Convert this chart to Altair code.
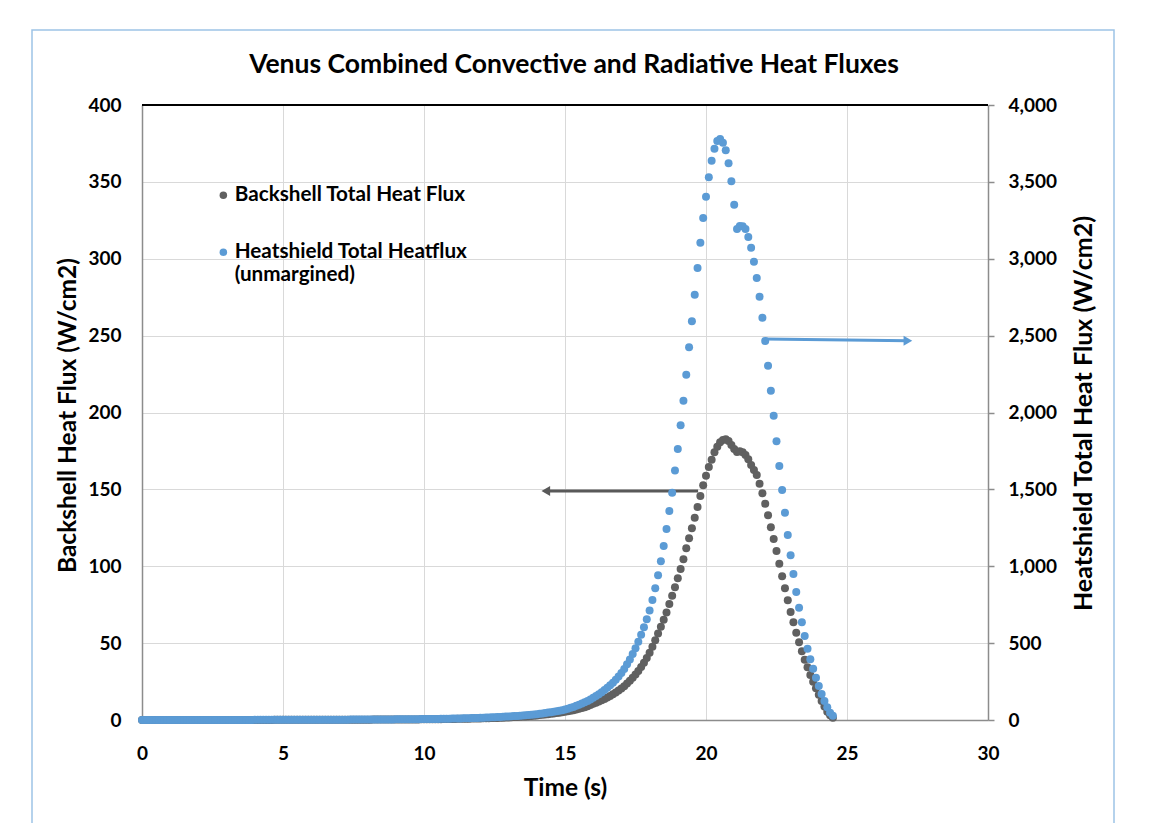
import altair as alt
import pandas as pd

# ---------------- data ----------------
TIME = [
    0.0, 0.1, 0.2, 0.3, 0.4, 0.5, 0.6, 0.7, 0.8, 0.9,
    1.0, 1.1, 1.2, 1.3, 1.4, 1.5, 1.6, 1.7, 1.8, 1.9,
    2.0, 2.1, 2.2, 2.3, 2.4, 2.5, 2.6, 2.7, 2.8, 2.9,
    3.0, 3.1, 3.2, 3.3, 3.4, 3.5, 3.6, 3.7, 3.8, 3.9,
    4.0, 4.1, 4.2, 4.3, 4.4, 4.5, 4.6, 4.7, 4.8, 4.9,
    5.0, 5.1, 5.2, 5.3, 5.4, 5.5, 5.6, 5.7, 5.8, 5.9,
    6.0, 6.1, 6.2, 6.3, 6.4, 6.5, 6.6, 6.7, 6.8, 6.9,
    7.0, 7.1, 7.2, 7.3, 7.4, 7.5, 7.6, 7.7, 7.8, 7.9,
    8.0, 8.1, 8.2, 8.3, 8.4, 8.5, 8.6, 8.7, 8.8, 8.9,
    9.0, 9.1, 9.2, 9.3, 9.4, 9.5, 9.6, 9.7, 9.8, 9.9,
    10.0, 10.1, 10.2, 10.3, 10.4, 10.5, 10.6, 10.7, 10.8, 10.9,
    11.0, 11.1, 11.2, 11.3, 11.4, 11.5, 11.6, 11.7, 11.8, 11.9,
    12.0, 12.1, 12.2, 12.3, 12.4, 12.5, 12.6, 12.7, 12.8, 12.9,
    13.0, 13.1, 13.2, 13.3, 13.4, 13.5, 13.6, 13.7, 13.8, 13.9,
    14.0, 14.1, 14.2, 14.3, 14.4, 14.5, 14.6, 14.7, 14.8, 14.9,
    15.0, 15.1, 15.2, 15.3, 15.4, 15.5, 15.6, 15.7, 15.8, 15.9,
    16.0, 16.1, 16.2, 16.3, 16.4, 16.5, 16.6, 16.7, 16.8, 16.9,
    17.0, 17.1, 17.2, 17.3, 17.4, 17.5, 17.6, 17.7, 17.8, 17.9,
    18.0, 18.1, 18.2, 18.3, 18.4, 18.5, 18.6, 18.7, 18.8, 18.9,
    19.0, 19.1, 19.2, 19.3, 19.4, 19.5, 19.6, 19.7, 19.8, 19.9,
    20.0, 20.1, 20.2, 20.3, 20.4, 20.5, 20.6, 20.7, 20.8, 20.9,
    21.0, 21.1, 21.2, 21.3, 21.4, 21.5, 21.6, 21.7, 21.8, 21.9,
    22.0, 22.1, 22.2, 22.3, 22.4, 22.5, 22.6, 22.7, 22.8, 22.9,
    23.0, 23.1, 23.2, 23.3, 23.4, 23.5, 23.6, 23.7, 23.8, 23.9,
    24.0, 24.1, 24.2, 24.3, 24.4, 24.5,
]

# Backshell total heat flux, W/cm2 (left axis)
BACKSHELL = [
    0.01, 0.01, 0.01, 0.01, 0.01, 0.01, 0.02, 0.02, 0.02, 0.02,
    0.02, 0.02, 0.02, 0.02, 0.03, 0.03, 0.03, 0.03, 0.03, 0.03,
    0.03, 0.03, 0.04, 0.04, 0.04, 0.04, 0.04, 0.04, 0.05, 0.05,
    0.05, 0.05, 0.05, 0.05, 0.06, 0.06, 0.06, 0.06, 0.06, 0.07,
    0.07, 0.07, 0.07, 0.08, 0.08, 0.08, 0.08, 0.09, 0.09, 0.09,
    0.10, 0.10, 0.10, 0.11, 0.11, 0.11, 0.12, 0.12, 0.12, 0.13,
    0.13, 0.14, 0.14, 0.14, 0.15, 0.15, 0.16, 0.16, 0.17, 0.17,
    0.18, 0.18, 0.19, 0.19, 0.20, 0.20, 0.21, 0.22, 0.22, 0.23,
    0.24, 0.24, 0.25, 0.26, 0.26, 0.27, 0.28, 0.29, 0.30, 0.30,
    0.31, 0.32, 0.33, 0.34, 0.35, 0.36, 0.38, 0.39, 0.40, 0.42,
    0.43, 0.45, 0.47, 0.49, 0.51, 0.53, 0.56, 0.58, 0.61, 0.64,
    0.68, 0.71, 0.74, 0.77, 0.81, 0.84, 0.88, 0.92, 0.96, 1.00,
    1.05, 1.10, 1.15, 1.20, 1.26, 1.32, 1.38, 1.45, 1.52, 1.60,
    1.70, 1.80, 1.90, 2.00, 2.10, 2.20, 2.35, 2.50, 2.65, 2.80,
    3.00, 3.20, 3.40, 3.60, 3.80, 4.00, 4.25, 4.50, 4.75, 5.00,
    5.30, 5.65, 6.00, 6.40, 6.85, 7.30, 7.80, 8.35, 8.95, 9.70,
    10.5, 11.2, 12.0, 12.8, 13.7, 14.6, 15.6, 16.7, 17.9, 19.2,
    20.5, 22.0, 23.7, 25.5, 27.5, 29.6, 31.9, 34.4, 37.2, 40.3,
    43.8, 47.6, 51.8, 56.2, 60.6, 65.2, 70.0, 75.4, 80.8, 86.3,
    92.2, 98.2, 104.5, 111.7, 118.2, 124.7, 131.6, 138.5, 145.7, 152.7,
    158.9, 164.6, 169.3, 174.1, 177.8, 180.6, 182.1, 182.6, 181.5, 178.9,
    176.3, 174.3, 174.8, 174.1, 172.4, 169.6, 165.9, 162.6, 159.3, 153.7,
    147.4, 140.7, 133.1, 125.3, 117.7, 109.9, 101.7, 93.5, 85.7, 77.9,
    70.2, 63.5, 56.8, 50.5, 44.7, 39.2, 34.3, 29.3, 24.9, 20.6,
    16.5, 12.4, 8.7, 5.4, 3.1, 1.5,
]

# Heatshield total heat flux (unmargined), W/cm2 (right axis)
HEATSHIELD = [
    0.2, 0.2, 0.2, 0.2, 0.2, 0.2, 0.3, 0.3, 0.3, 0.3,
    0.3, 0.3, 0.3, 0.3, 0.4, 0.4, 0.4, 0.4, 0.4, 0.4,
    0.4, 0.5, 0.5, 0.5, 0.5, 0.5, 0.5, 0.6, 0.6, 0.6,
    0.6, 0.6, 0.7, 0.7, 0.7, 0.7, 0.8, 0.8, 0.8, 0.8,
    0.9, 0.9, 0.9, 1.0, 1.0, 1.0, 1.1, 1.1, 1.1, 1.2,
    1.2, 1.2, 1.3, 1.3, 1.4, 1.4, 1.4, 1.5, 1.5, 1.6,
    1.6, 1.7, 1.7, 1.8, 1.8, 1.9, 1.9, 2.0, 2.1, 2.1,
    2.2, 2.3, 2.3, 2.4, 2.5, 2.6, 2.6, 2.7, 2.8, 2.9,
    3.0, 3.1, 3.2, 3.3, 3.4, 3.5, 3.6, 3.8, 3.9, 4.0,
    4.2, 4.3, 4.5, 4.6, 4.8, 5.0, 5.1, 5.3, 5.5, 5.7,
    6.0, 6.2, 6.5, 6.8, 7.0, 7.3, 7.6, 8.0, 8.3, 8.6,
    9.0, 9.4, 9.8, 10.3, 10.7, 11.2, 11.7, 12.2, 12.8, 13.4,
    14.0, 14.7, 15.5, 16.3, 17.1, 18.0, 18.9, 19.9, 20.9, 22.0,
    23.0, 24.2, 25.5, 26.8, 28.2, 29.6, 31.2, 32.8, 34.5, 36.3,
    38.0, 40.3, 42.7, 45.3, 48.0, 50.9, 53.9, 57.2, 60.6, 64.2,
    68, 73, 79, 85, 92, 99, 107, 115, 124, 134,
    145, 156, 168, 181, 195, 210, 226, 243, 262, 283,
    305, 332, 362, 394, 429, 467, 509, 554, 603, 655,
    713, 780, 857, 941, 1032, 1132, 1242, 1359, 1478, 1622,
    1763, 1917, 2077, 2246, 2424, 2593, 2766, 2940, 3104, 3265,
    3404, 3530, 3638, 3716, 3766, 3779, 3755, 3705, 3621, 3504,
    3352, 3193, 3213, 3211, 3193, 3141, 3072, 2981, 2875, 2753,
    2617, 2465, 2304, 2142, 1979, 1813, 1652, 1496, 1348, 1203,
    1071, 950, 833, 730, 635, 546, 464, 395, 334, 275,
    221, 169, 124, 83, 47, 28,
]

SERIES = ["Backshell Total Heat Flux", "Heatshield Total Heatflux (unmargined)"]
SERIES_COLORS = ["#606060", "#5B9BD5"]

X_TICKS = [0, 5, 10, 15, 20, 25, 30]
LEFT_TICKS = [0, 50, 100, 150, 200, 250, 300, 350, 400]
RIGHT_TICKS = [0, 500, 1000, 1500, 2000, 2500, 3000, 3500, 4000]

# annotation arrows (start time, end time / start value, end value)
BACK_ARROW_T = [19.72, 14.32]
BACK_ARROW_V = [149, 149]
HEAT_ARROW_T = [22.09, 27.16]
HEAT_ARROW_V = [2478, 2466]

TITLE = "Venus Combined Convective and Radiative Heat Fluxes"

# ---------------- styling ----------------
W, H = 846, 615
FONT = "Lato"
AXIS_GREY = "#8c8c8c"
ARROW_GREY = "#595959"
FRAME_BLUE = "#9DC3E6"

df = pd.DataFrame({"t": TIME, "back": BACKSHELL, "heat": HEATSHIELD})
back_arrow = pd.DataFrame({
    "t": [BACK_ARROW_T[0]], "t_end": [BACK_ARROW_T[1]],
    "back": [BACK_ARROW_V[0]], "back_end": [BACK_ARROW_V[1]],
})
heat_arrow = pd.DataFrame({
    "t": [HEAT_ARROW_T[0]], "t_end": [HEAT_ARROW_T[1]],
    "heat": [HEAT_ARROW_V[0]], "heat_end": [HEAT_ARROW_V[1]],
})
one_row = pd.DataFrame({"k": [0]})

x_scale = alt.Scale(domain=[0, 30], nice=False, zero=False)
left_scale = alt.Scale(domain=[0, 400], nice=False)
right_scale = alt.Scale(domain=[0, 4000], nice=False)

x_axis = alt.Axis(
    values=X_TICKS, format="d", title="Time (s)", grid=True, ticks=False, tickSize=0,
    labelPadding=24, labelFlush=False,
    titleX=W / 2, titleY=68, titleBaseline="middle",
)
left_axis = alt.Axis(
    orient="left", values=LEFT_TICKS, format="d", title="Backshell Heat Flux (W/cm2)",
    grid=True, ticks=False, tickSize=0, labelPadding=21,
    titleX=-74, titleY=310, titleAngle=270, titleBaseline="middle", titleAlign="center",
)
right_axis = alt.Axis(
    orient="right", values=RIGHT_TICKS, format=",d", title="Heatshield Total Heat Flux (W/cm2)",
    grid=False, ticks=True, tickSize=6, tickColor=AXIS_GREY, tickWidth=1.5, labelPadding=14,
    titleX=95, titleY=308, titleAngle=270, titleBaseline="middle", titleAlign="center",
    titleFontSize=25,
)

legend = alt.Legend(
    title=None, orient="none", legendX=71, legendY=80, padding=0, rowPadding=35,
    labelOffset=1, symbolType="circle", symbolSize=56, symbolStrokeWidth=0,
    labelFont=FONT, labelFontSize=20.7, labelFontWeight="bold", labelColor="black",
    labelLimit=500,
    labelExpr=("datum.label == 'Heatshield Total Heatflux (unmargined)' ? "
               "['Heatshield Total Heatflux', '(unmargined)'] : datum.label"),
)
color_scale = alt.Scale(domain=SERIES, range=SERIES_COLORS)
color_enc = alt.Color("series:N", scale=color_scale, legend=legend)

x_t = alt.X("t:Q", scale=x_scale, axis=x_axis)
x_end = alt.X("t_end:Q", scale=x_scale, axis=x_axis)

# ---- left (backshell) group
back_pts = alt.Chart(df).transform_calculate(
    series=f"'{SERIES[0]}'"
).mark_circle(size=64, opacity=1).encode(
    x=x_t,
    y=alt.Y("back:Q", scale=left_scale, axis=left_axis),
    color=color_enc,
)
back_line = alt.Chart(back_arrow).mark_rule(color=ARROW_GREY, strokeWidth=3).encode(
    x=x_t, x2="t_end",
    y=alt.Y("back:Q", scale=left_scale, axis=left_axis), y2="back_end",
)
back_head = alt.Chart(back_arrow).mark_point(
    shape="triangle-left", filled=True, size=100, color=ARROW_GREY, opacity=1
).encode(
    x=x_end,
    y=alt.Y("back_end:Q", scale=left_scale, axis=left_axis),
)
left_group = alt.layer(back_pts, back_line, back_head)

# ---- right (heatshield) group
heat_pts = alt.Chart(df).transform_calculate(
    series=f"'{SERIES[1]}'"
).mark_circle(size=64, opacity=1).encode(
    x=x_t,
    y=alt.Y("heat:Q", scale=right_scale, axis=right_axis),
    color=color_enc,
)
heat_line = alt.Chart(heat_arrow).mark_rule(color=SERIES_COLORS[1], strokeWidth=3).encode(
    x=x_t, x2="t_end",
    y=alt.Y("heat:Q", scale=right_scale, axis=right_axis), y2="heat_end",
)
heat_head = alt.Chart(heat_arrow).mark_point(
    shape="triangle-right", filled=True, size=100, color=SERIES_COLORS[1], opacity=1
).encode(
    x=x_end,
    y=alt.Y("heat_end:Q", scale=right_scale, axis=right_axis),
)
right_group = alt.layer(heat_pts, heat_line, heat_head)

# ---- decorations: outer chart frame, chart title, black top border of the plot
frame = alt.Chart(one_row).mark_rect(
    fillOpacity=0, stroke=FRAME_BLUE, strokeWidth=1.5
).encode(x=alt.value(-110), x2=alt.value(972), y=alt.value(-75), y2=alt.value(760))
title_text = alt.Chart(one_row).mark_text(
    font=FONT, fontSize=26.5, fontWeight="bold", color="black",
    align="center", baseline="alphabetic",
).encode(x=alt.value(432), y=alt.value(-32), text=alt.value(TITLE))
top_rule = alt.Chart(one_row).mark_rule(color="black", strokeWidth=2).encode(
    x=alt.value(0), x2=alt.value(W), y=alt.value(0)
)

chart = (
    alt.layer(frame, title_text, left_group, right_group, top_rule)
    .resolve_scale(y="independent")
    .properties(
        width=W, height=H,
        padding={"left": 134, "top": 97, "right": 150, "bottom": 103},
        autosize=alt.AutoSizeParams(type="none"),
    )
    .configure_view(stroke=None)
    .configure_axis(
        domainColor=AXIS_GREY, domainWidth=1.5,
        gridColor="#d9d9d9", gridWidth=1,
        labelFont=FONT, labelFontSize=19, labelFontWeight="bold", labelColor="black",
        titleFont=FONT, titleFontSize=24.5, titleFontWeight="bold", titleColor="black",
    )
)

chart.save("out.html", embed_options={"renderer": "svg", "actions": False})
